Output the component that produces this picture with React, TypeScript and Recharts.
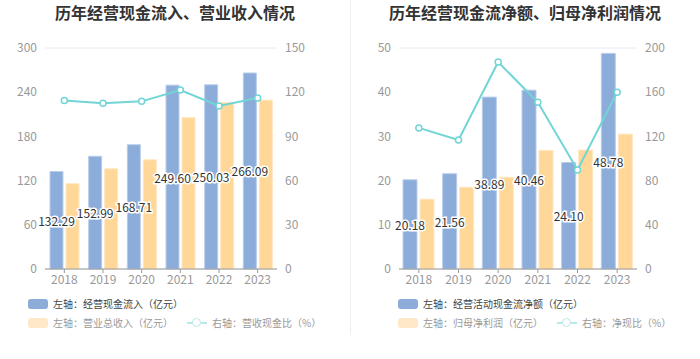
import React from 'react';
import {
  Bar,
  CartesianGrid,
  ComposedChart,
  LabelList,
  Line,
  XAxis,
  YAxis,
} from 'recharts';

const years = ['2018', '2019', '2020', '2021', '2022', '2023'];

// left panel
const cashInflow = [132.29, 152.99, 168.71, 249.6, 250.03, 266.09];
const revenue = [115.7, 136.0, 148.2, 205.4, 225.9, 229.2];
const revenueCashRatio = [114.3, 112.5, 113.8, 121.5, 110.7, 116.1];

// right panel
const netCashFlow = [20.18, 21.56, 38.89, 40.46, 24.1, 48.78];
const netProfit = [15.8, 18.47, 20.76, 26.83, 26.9, 30.51];
const netCashRatio = [127.7, 116.7, 187.3, 150.8, 89.6, 159.9];

const leftTicksA = [0, 60, 120, 180, 240, 300];
const leftTicksB = [0, 30, 60, 90, 120, 150];
const rightTicksA = [0, 10, 20, 30, 40, 50];
const rightTicksB = [0, 40, 80, 120, 160, 200];

const BLUE = '#8CACDA';
const ORANGE = '#FFD899';
const TEAL = '#72D5D5';
const FONT = '"Noto Sans CJK SC", "Noto Sans", sans-serif';

const leftData = years.map((y, i) => ({
  year: y,
  a: cashInflow[i],
  b: revenue[i],
  r: revenueCashRatio[i],
}));

const rightData = years.map((y, i) => ({
  year: y,
  a: netCashFlow[i],
  b: netProfit[i],
  r: netCashRatio[i],
}));

const renderValue = (props: any) => {
  const { x, y, width, height, value } = props;
  return (
    <text
      x={x + width / 2}
      y={y + height / 2}
      textAnchor="middle"
      dominantBaseline="central"
      fontSize={12}
      fontFamily={FONT}
      fill="#333"
      stroke="#fff"
      strokeWidth={3}
      paintOrder="stroke"
    >
      {Number(value).toFixed(2)}
    </text>
  );
};

interface PanelProps {
  title: string;
  data: typeof leftData;
  ticksA: number[];
  ticksB: number[];
  leftW: number;
  rightW: number;
  barSize: number;
  legendX: number;
  legendA: string;
  legendB: string;
  legendR: string;
  lineLegendX: number;
}

function Panel(p: PanelProps) {
  const tick = { fontSize: 12, fill: '#999', fontFamily: FONT };
  return (
    <div style={{ position: 'relative', width: 350, height: 359 }}>
      <div
        style={{
          position: 'absolute',
          top: 0,
          left: 0,
          width: 350,
          textAlign: 'center',
          fontSize: 16,
          fontWeight: 'bold',
          color: '#333',
          fontFamily: FONT,
          lineHeight: '24px',
        }}
      >
        {p.title}
      </div>
      <ComposedChart
        width={350}
        height={290}
        data={p.data}
        margin={{ top: 48, right: 0, bottom: 0, left: 0 }}
        barGap={3}
        style={{ position: 'absolute', top: 0, left: 0 }}
      >
        <CartesianGrid vertical={false} stroke="#E6EAF3" />
        <XAxis
          dataKey="year"
          height={21}
          tick={tick}
          tickLine={{ stroke: '#999' }}
          axisLine={{ stroke: '#999' }}
          tickSize={4}
          interval={0}
        />
        <YAxis
          yAxisId="l"
          width={p.leftW}
          domain={[p.ticksA[0], p.ticksA[p.ticksA.length - 1]]}
          ticks={p.ticksA}
          tick={tick}
          axisLine={false}
          tickLine={false}
        />
        <YAxis
          yAxisId="r"
          orientation="right"
          width={p.rightW}
          domain={[p.ticksB[0], p.ticksB[p.ticksB.length - 1]]}
          ticks={p.ticksB}
          tick={tick}
          axisLine={false}
          tickLine={false}
        />
        <Bar
          yAxisId="l"
          dataKey="a"
          fill={BLUE}
          stroke="#B9CDEB"
          strokeWidth={1}
          barSize={p.barSize}
          isAnimationActive={false}
        >
          <LabelList dataKey="a" content={renderValue} />
        </Bar>
        <Bar
          yAxisId="l"
          dataKey="b"
          fill={ORANGE}
          stroke="#FFE6BE"
          strokeWidth={1}
          barSize={p.barSize}
          isAnimationActive={false}
        />
        <Line
          yAxisId="r"
          dataKey="r"
          stroke={TEAL}
          strokeWidth={2}
          dot={{ r: 3, fill: '#fff', stroke: TEAL, strokeWidth: 1.5 }}
          isAnimationActive={false}
        />
      </ComposedChart>
      <div
        style={{
          position: 'absolute',
          top: 296,
          left: p.legendX,
          fontSize: 10,
          fontFamily: FONT,
          lineHeight: '16px',
          whiteSpace: 'nowrap',
        }}
      >
        <div style={{ display: 'flex', alignItems: 'center', color: '#444' }}>
          <span
            style={{
              display: 'inline-block',
              width: 20,
              height: 10,
              borderRadius: 3,
              background: BLUE,
              marginRight: 5,
            }}
          />
          {p.legendA}
        </div>
        <div
          style={{
            display: 'flex',
            alignItems: 'center',
            color: '#999',
            marginTop: 3,
          }}
        >
          <span
            style={{
              display: 'inline-block',
              width: 20,
              height: 10,
              borderRadius: 3,
              background: '#FFE8C8',
              marginRight: 5,
            }}
          />
          {p.legendB}
          <span
            style={{
              position: 'relative',
              display: 'inline-block',
              width: 20,
              height: 10,
              marginLeft: p.lineLegendX,
              marginRight: 5,
            }}
          >
            <span
              style={{
                position: 'absolute',
                left: 0,
                top: 4,
                width: 20,
                height: 2,
                background: '#B8EAEA',
              }}
            />
            <span
              style={{
                position: 'absolute',
                left: 5,
                top: 0,
                width: 7,
                height: 7,
                borderRadius: '50%',
                border: '1.5px solid #B8EAEA',
                background: '#fff',
              }}
            />
          </span>
          {p.legendR}
        </div>
      </div>
    </div>
  );
}

export default function App() {
  return (
    <div
      style={{
        position: 'absolute',
        left: 0,
        top: 0,
        width: 700,
        height: 359,
        background: '#fff',
        display: 'flex',
      }}
    >
      <Panel
        title="历年经营现金流入、营业收入情况"
        data={leftData}
        ticksA={leftTicksA}
        ticksB={leftTicksB}
        leftW={45}
        rightW={73}
        barSize={13}
        legendX={28}
        legendA="左轴：经营现金流入（亿元）"
        legendB="左轴：营业总收入（亿元）"
        legendR="右轴：营收现金比（%）"
        lineLegendX={14}
      />
      <div
        style={{
          position: 'absolute',
          left: 350,
          top: 0,
          width: 1,
          height: 335,
          background: '#EEEEEE',
        }}
      />
      <Panel
        title="历年经营现金流净额、归母净利润情况"
        data={rightData}
        ticksA={rightTicksA}
        ticksB={rightTicksB}
        leftW={49}
        rightW={63}
        barSize={14}
        legendX={48}
        legendA="左轴：经营活动现金流净额（亿元）"
        legendB="左轴：归母净利润（亿元）"
        legendR="右轴：净现比（%）"
        lineLegendX={14}
      />
    </div>
  );
}
